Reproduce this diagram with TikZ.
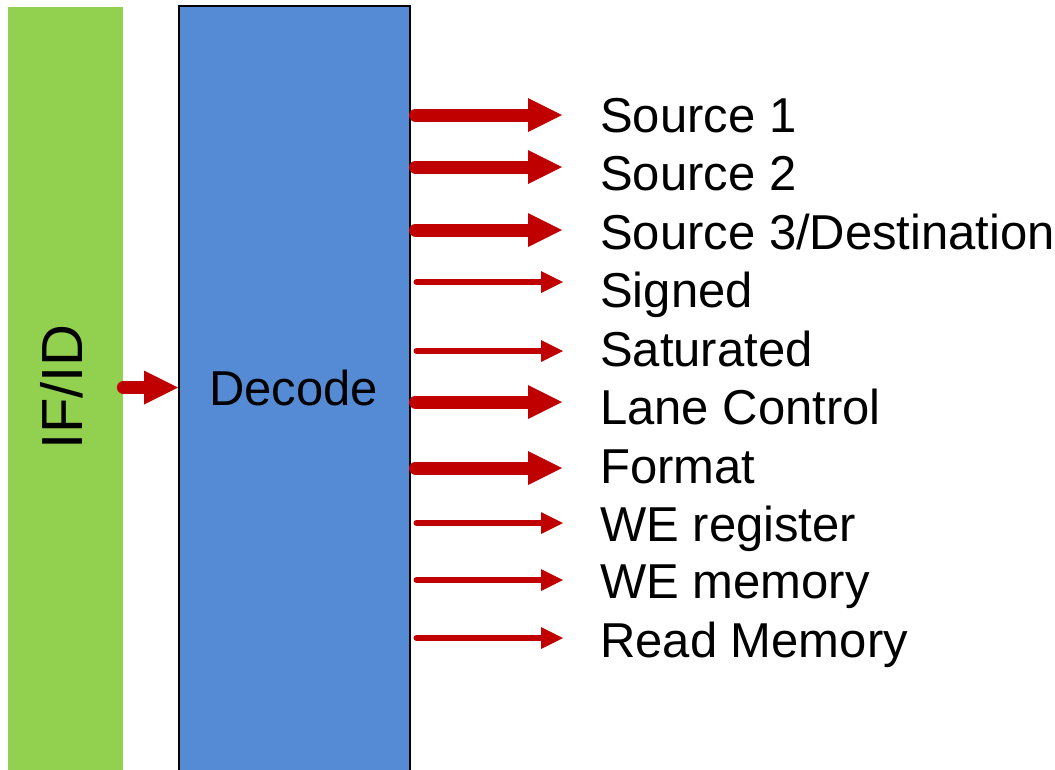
\documentclass[tikz,border=0pt]{standalone}
\usepackage{fontspec}
\setmainfont{Liberation Sans}
\usetikzlibrary{arrows.meta}

\definecolor{stagegreen}{RGB}{146,208,80}
\definecolor{decodeblue}{RGB}{85,139,213}
\definecolor{sigred}{RGB}{192,0,0}

\tikzset{
  bus/.style={draw=sigred, line width=13pt, line cap=round,
    -{Triangle[length=34pt,width=34pt,line width=0pt]}},
  wire/.style={draw=sigred, line width=6pt, line cap=round,
    -{Triangle[length=22pt,width=22pt,line width=0pt]}},
  siglabel/.style={anchor=base west, inner sep=0pt, font=\fontsize{49}{58}\selectfont}
}

\begin{document}
\begin{tikzpicture}[x=1pt, y=-1pt]
  \useasboundingbox (0,0) rectangle (1055,769);
  \clip (0,0) rectangle (1055,769);

  % pipeline register and decode stage
  \node (ifid) [fill=stagegreen, minimum width=115pt, minimum height=775pt,
    inner sep=0pt, anchor=north west] at (8,7) {};
  \node (ifidtxt) [rotate=90, inner sep=0pt, font=\fontsize{58}{68}\selectfont]
    at (62,387) {IF/ID};
  \node (dec) [fill=decodeblue, draw=black, line width=1.5pt,
    minimum width=231pt, minimum height=765pt, inner sep=0pt,
    font=\fontsize{49}{58}\selectfont, anchor=north west] at (178,5) {};
  \node (dectxt) [inner sep=0pt, font=\fontsize{49}{58}\selectfont]
    at (293.5,387.5) {Decode};

  % input from IF/ID
  \draw[bus] (ifid.east |- dectxt) -- (dec.west |- dectxt);

  % output signal names
  \node (s1)  [siglabel] at (600,132) {Source 1};
  \node (s2)  [siglabel] at (600,190) {Source 2};
  \node (s3)  [siglabel] at (600,249) {Source 3/Destination};
  \node (sg)  [siglabel] at (600,307) {Signed};
  \node (sat) [siglabel] at (600,366) {Saturated};
  \node (lc)  [siglabel] at (600,424) {Lane Control};
  \node (fmt) [siglabel] at (600,483) {Format};
  \node (wer) [siglabel] at (600,541) {WE register};
  \node (wem) [siglabel] at (600,598) {WE memory};
  \node (rdm) [siglabel] at (600,657) {Read Memory};

  % arrow tips in front of each name
  \coordinate (t1)  at (562,115);
  \coordinate (t2)  at (562,167);
  \coordinate (t3)  at (562,230);
  \coordinate (t4)  at (563,282);
  \coordinate (t5)  at (563,351);
  \coordinate (t6)  at (562,402);
  \coordinate (t7)  at (562,468);
  \coordinate (t8)  at (563,523);
  \coordinate (t9)  at (563,580);
  \coordinate (t10) at (563,638);

  \draw[bus]  ([xshift=5pt]dec.east |- t1)  -- (t1);
  \draw[bus]  ([xshift=5pt]dec.east |- t2)  -- (t2);
  \draw[bus]  ([xshift=5pt]dec.east |- t3)  -- (t3);
  \draw[wire] ([xshift=6pt]dec.east |- t4)  -- (t4);
  \draw[wire] ([xshift=6pt]dec.east |- t5)  -- (t5);
  \draw[bus]  ([xshift=5pt]dec.east |- t6)  -- (t6);
  \draw[bus]  ([xshift=5pt]dec.east |- t7)  -- (t7);
  \draw[wire] ([xshift=6pt]dec.east |- t8)  -- (t8);
  \draw[wire] ([xshift=6pt]dec.east |- t9)  -- (t9);
  \draw[wire] ([xshift=6pt]dec.east |- t10) -- (t10);
\end{tikzpicture}
\end{document}
